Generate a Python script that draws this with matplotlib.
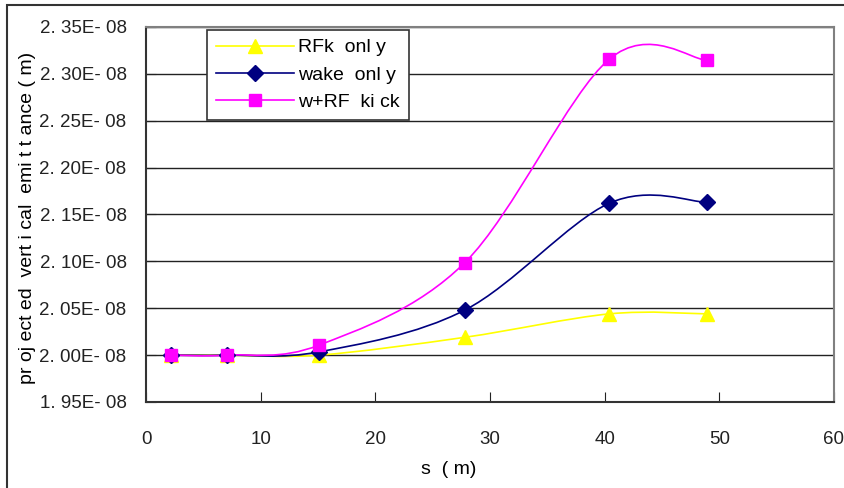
import matplotlib.pyplot as plt
from matplotlib.path import Path
from matplotlib.patches import PathPatch, Rectangle
from matplotlib.lines import Line2D

plt.rcParams['font.family'] = ['Liberation Sans', 'DejaVu Sans']

# data
s = [2.2, 7.1, 15.1, 27.8, 40.4, 48.9]
rf_only = [2.000e-08, 2.000e-08, 2.000e-08, 2.019e-08, 2.044e-08, 2.044e-08]
wake_only = [2.000e-08, 2.000e-08, 2.0035e-08, 2.048e-08, 2.162e-08, 2.163e-08]
w_rf_kick = [2.000e-08, 2.000e-08, 2.0107e-08, 2.0986e-08, 2.3157e-08, 2.3146e-08]

labels = ['RFk  onl y', 'wake  onl y', 'w+RF  ki ck']
colors = ['#FFFF00', '#000080', '#FF00FF']
markers = ['^', 'D', 's']
msizes = [10, 8, 9]

yticks = [1.95e-08, 2.00e-08, 2.05e-08, 2.10e-08, 2.15e-08, 2.20e-08,
          2.25e-08, 2.30e-08, 2.35e-08]
ytick_labels = ['1. 95E- 08', '2. 00E- 08', '2. 05E- 08', '2. 10E- 08', '2. 15E- 08',
                '2. 20E- 08', '2. 25E- 08', '2. 30E- 08', '2. 35E- 08']
xticks = [0, 10, 20, 30, 40, 50, 60]


def smooth_path(x, y):
    # Excel style smoothed line: bezier segments, control points from neighbours
    pts = list(zip(x, y))
    verts = [pts[0]]
    codes = [Path.MOVETO]
    n = len(pts)
    for i in range(n - 1):
        p0 = pts[i - 1] if i > 0 else pts[i]
        p1 = pts[i]
        p2 = pts[i + 1]
        p3 = pts[i + 2] if i + 2 < n else pts[i + 1]
        c1 = (p1[0] + (p2[0] - p0[0]) / 6, p1[1] + (p2[1] - p0[1]) / 6)
        c2 = (p2[0] - (p3[0] - p1[0]) / 6, p2[1] - (p3[1] - p1[1]) / 6)
        verts += [c1, c2, p2]
        codes += [Path.CURVE4] * 3
    return Path(verts, codes)


fig = plt.figure(figsize=(8.44, 4.88), dpi=100)
fig.patches.append(Rectangle((7 / 844, -0.1), 1.2, 1 - 5 / 488 + 0.1,
                             transform=fig.transFigure, fill=False,
                             edgecolor='#333333', linewidth=1.5))
ax = fig.add_axes([146 / 844, 1 - 402 / 488, 688 / 844, 375 / 488])

series = [rf_only, wake_only, w_rf_kick]
handles = []
for vals, lab, c, m, ms in zip(series, labels, colors, markers, msizes):
    ax.add_patch(PathPatch(smooth_path(s, vals), fill=False, edgecolor=c,
                           linewidth=1.2, zorder=3))
    ax.plot(s, vals, linestyle='none', marker=m, color=c, markersize=ms,
            markeredgecolor=c, zorder=4)
    handles.append(Line2D([], [], color=c, linewidth=1.2, marker=m,
                          markersize=ms, markeredgecolor=c))

ax.set_xlim(0, 60)
ax.set_ylim(1.95e-08, 2.35e-08)
ax.set_xticks(xticks)
ax.set_yticks(yticks)
ax.set_yticklabels(ytick_labels)
ax.tick_params(axis='both', direction='in', length=7, labelsize=13.5, colors='#222222')
ax.tick_params(axis='x', pad=21)
ax.tick_params(axis='y', pad=14)
ax.grid(axis='y', color='#222222', linewidth=1)
ax.set_axisbelow(True)
for side in ['left', 'bottom']:
    ax.spines[side].set_color('#333333')
    ax.spines[side].set_linewidth(1.5)
for side in ['top', 'right']:
    ax.spines[side].set_color('#808080')
    ax.spines[side].set_linewidth(1.5)

leg = ax.legend(handles, labels, loc='upper left',
                bbox_to_anchor=((207 - 146) / 688, (402 - 30) / 375),
                fontsize=14, frameon=True, fancybox=False, framealpha=1,
                edgecolor='#333333', handlelength=4.0, borderpad=0.45,
                labelspacing=0.5, handletextpad=0.25, borderaxespad=0)
leg.get_frame().set_linewidth(1.2)

fig.text(449 / 844, 1 - 470 / 488, 's  ( m)', ha='center', va='center', fontsize=14)
fig.text(28 / 844, 1 - 218 / 488, 'pr oj ect ed  vert i cal  emi t t ance ( m)',
         ha='center', va='center', rotation=90, fontsize=14)

fig.savefig('out.png', dpi=100)
